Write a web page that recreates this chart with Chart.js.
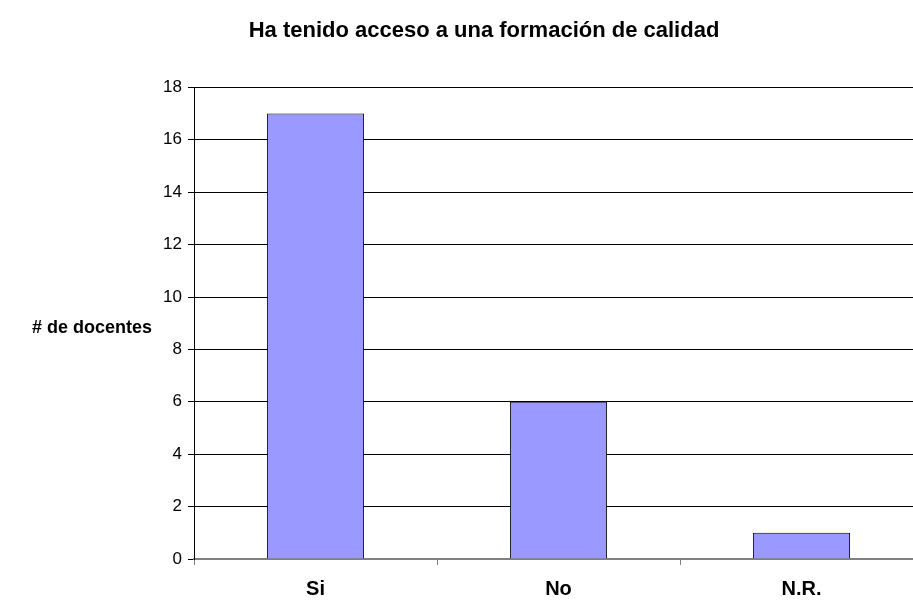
<!DOCTYPE html>
<html>
<head>
<meta charset="utf-8">
<script src="https://cdn.jsdelivr.net/npm/chart.js@4"></script>
<style>
    html, body { margin: 0; padding: 0; background: #fff; overflow: hidden; }
    #wrap { width: 968px; height: 603px; }
</style>
</head>
<body>
<div id="wrap"><canvas id="bar-chart" width="968" height="603"></canvas></div>
<script>
// data
const categories = ['Si', 'No', 'N.R.'];
const docentes = [17, 6, 1];
const yTicks = [0, 2, 4, 6, 8, 10, 12, 14, 16, 18];

const chartTitle = 'Ha tenido acceso a una formación de calidad';
const yTitle = '# de docentes';

// horizontal y axis title, drawn left of the axis
const yTitlePlugin = {
    id: 'yTitle',
    afterDraw(chart) {
        let ctx = chart.ctx;
        let area = chart.chartArea;
        ctx.save();
        ctx.font = 'bold 18px "Liberation Sans", Arial, sans-serif';
        ctx.fillStyle = '#000';
        ctx.textAlign = 'center';
        ctx.textBaseline = 'middle';
        ctx.fillText(yTitle, 92, (area.top + area.bottom) / 2 + 5);
        ctx.restore();
    }
};

function getConfig() {
    let config = {
        type: 'bar',
        data: {
            labels: categories,
            datasets: [
                {
                    label: yTitle,
                    data: docentes,
                    backgroundColor: '#9999FF',
                    borderColor: '#000000',
                    borderWidth: 1,
                    barPercentage: 0.4,
                    categoryPercentage: 1
                }
            ]
        },
        options: {
            responsive: false,
            animation: false,
            layout: {
                // left/right padding keep the title centred where the original had it
                padding: { left: 45, right: 45, top: 0, bottom: 0 }
            },
            scales: {
                x: {
                    grid: {
                        offset: true,
                        drawOnChartArea: false,
                        color: '#808080',
                        tickLength: 6
                    },
                    border: { color: '#808080', width: 2 },
                    ticks: {
                        color: '#000',
                        padding: 12,
                        font: { family: '"Liberation Sans", Arial, sans-serif', size: 20, weight: 'bold' }
                    },
                    afterFit: (scale) => { scale.height = 44; }
                },
                y: {
                    min: 0,
                    max: 18,
                    afterBuildTicks: (scale) => { scale.ticks = yTicks.map(v => ({ value: v })); },
                    grid: {
                        color: '#000',
                        tickLength: 6
                    },
                    border: { color: '#000' },
                    ticks: {
                        color: '#000',
                        padding: 6,
                        font: { family: '"Liberation Sans", Arial, sans-serif', size: 17 }
                    },
                    afterFit: (scale) => { scale.width = 149; }
                }
            },
            plugins: {
                legend: { display: false },
                tooltip: { enabled: false },
                title: {
                    display: true,
                    text: chartTitle,
                    color: '#000',
                    font: { family: '"Liberation Sans", Arial, sans-serif', size: 22, weight: 'bold' },
                    padding: { top: 18, bottom: 43 }
                }
            }
        },
        plugins: [yTitlePlugin]
    };
    return config;
}

let ctx = document.getElementById('bar-chart').getContext('2d');
window.myBar = new Chart(ctx, getConfig());
</script>
</body>
</html>
